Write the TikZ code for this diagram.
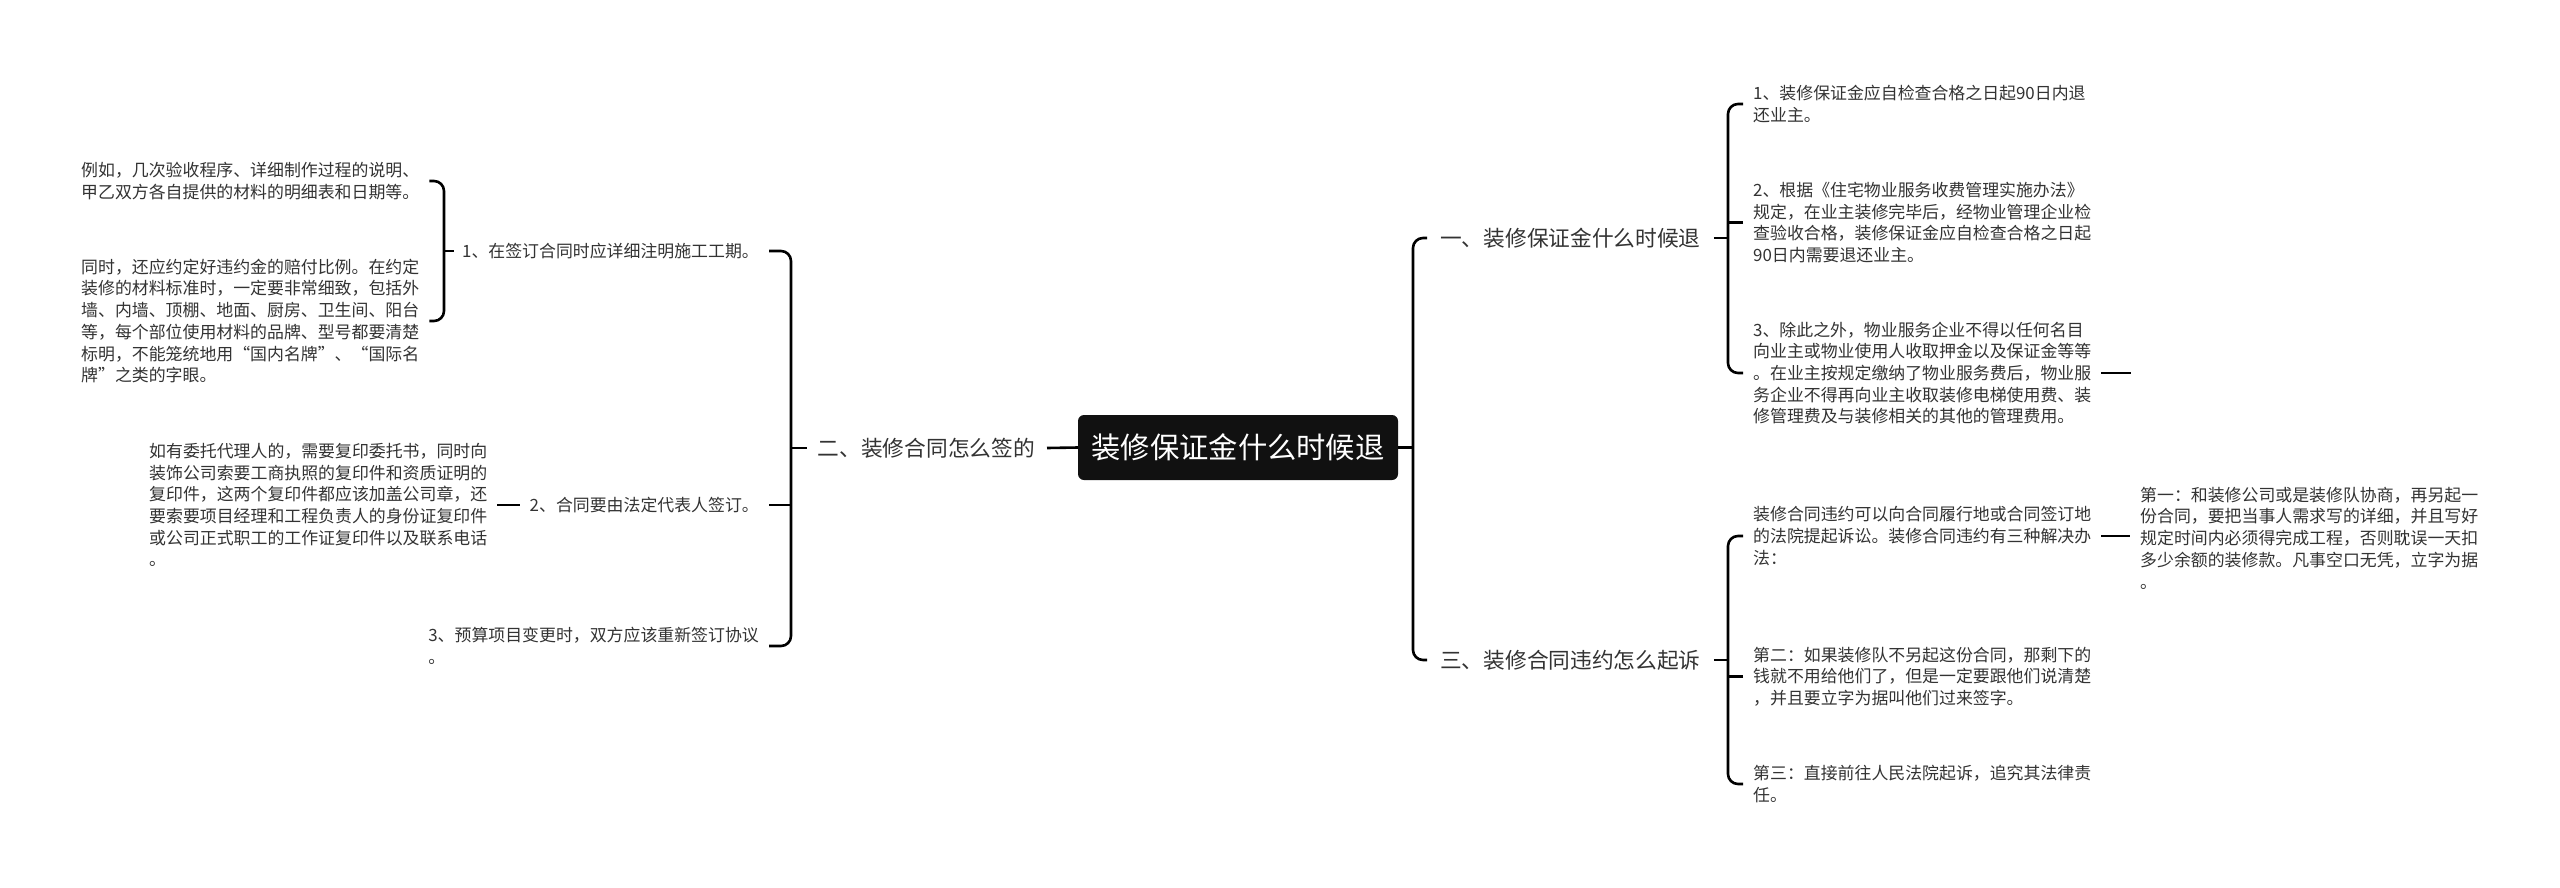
\documentclass[tikz,border=0pt]{standalone}
\usepackage{fontspec}
\setmainfont{Noto Sans CJK SC}
\definecolor{txt}{HTML}{333333}
\definecolor{rootfill}{HTML}{111111}
\begin{document}
\begin{tikzpicture}[x=1pt,y=-1pt,
  conn/.style={draw=black,line width=2.6pt,rounded corners=10pt},
  small/.style={inner sep=0pt,text=txt,align=left,font=\fontsize{16.9}{21.7}\selectfont},
  smallbox/.style={small,text width=338pt},
  branch/.style={inner sep=0pt,text=txt,font=\fontsize{21.7}{26}\selectfont},
  rootnode/.style={fill=rootfill,rounded corners=6pt,text=white,minimum width=320pt,minimum height=65pt,inner sep=0pt,font=\fontsize{29.3}{34}\selectfont}]
\useasboundingbox (0,0) rectangle (2560,887);
\fill[white] (0,0) rectangle (2560,887);

% root
\node[rootnode] (root) at (1238,447.5) {装修保证金什么时候退};

% branches
\node[branch,anchor=east] (b2) at (1035,448) {二、装修合同怎么签的};
\node[branch,anchor=west] (b1) at (1440,238) {一、装修保证金什么时候退};
\node[branch,anchor=west] (b3) at (1440,660) {三、装修合同违约怎么起诉};

% right branch 1 children
\node[smallbox,anchor=west] (t11) at (1753,104) {1、装修保证金应自检查合格之日起90日内退\\还业主。};
\node[smallbox,anchor=west] (t12) at (1753,222.5) {2、根据《住宅物业服务收费管理实施办法》\\规定，在业主装修完毕后，经物业管理企业检\\查验收合格，装修保证金应自检查合格之日起\\90日内需要退还业主。};
\node[smallbox,anchor=west] (t13) at (1753,373) {3、除此之外，物业服务企业不得以任何名目\\向业主或物业使用人收取押金以及保证金等等\\。在业主按规定缴纳了物业服务费后，物业服\\务企业不得再向业主收取装修电梯使用费、装\\修管理费及与装修相关的其他的管理费用。};

% right branch 3 children
\node[smallbox,anchor=west] (t31) at (1753,536) {装修合同违约可以向合同履行地或合同签订地\\的法院提起诉讼。装修合同违约有三种解决办\\法：};
\node[smallbox,anchor=west] (t31a) at (2140,538) {第一：和装修公司或是装修队协商，再另起一\\份合同，要把当事人需求写的详细，并且写好\\规定时间内必须得完成工程，否则耽误一天扣\\多少余额的装修款。凡事空口无凭，立字为据\\。};
\node[smallbox,anchor=west] (t32) at (1753,676.5) {第二：如果装修队不另起这份合同，那剩下的\\钱就不用给他们了，但是一定要跟他们说清楚\\，并且要立字为据叫他们过来签字。};
\node[smallbox,anchor=west] (t33) at (1753,784) {第三：直接前往人民法院起诉，追究其法律责\\任。};

% left branch children
\node[small,anchor=east] (c1) at (759,251) {1、在签订合同时应详细注明施工工期。};
\node[small,anchor=east] (c2) at (759,505) {2、合同要由法定代表人签订。};
\node[small,anchor=east] (c3) at (759,646) {3、预算项目变更时，双方应该重新签订协议\\。};

\node[smallbox,anchor=west] (c1a) at (81,181) {例如，几次验收程序、详细制作过程的说明、\\甲乙双方各自提供的材料的明细表和日期等。};
\node[smallbox,anchor=west] (c1b) at (81,321) {同时，还应约定好违约金的赔付比例。在约定\\装修的材料标准时，一定要非常细致，包括外\\墙、内墙、顶棚、地面、厨房、卫生间、阳台\\等，每个部位使用材料的品牌、型号都要清楚\\标明，不能笼统地用“国内名牌”、“国际名\\牌”之类的字眼。};
\node[smallbox,anchor=west] (c2a) at (149,505) {如有委托代理人的，需要复印委托书，同时向\\装饰公司索要工商执照的复印件和资质证明的\\复印件，这两个复印件都应该加盖公司章，还\\要索要项目经理和工程负责人的身份证复印件\\或公司正式职工的工作证复印件以及联系电话\\。};

% junction coordinates
\coordinate (rt) at (1413,447.5);
\coordinate (r1) at (1728,238);
\coordinate (r3) at (1728,660);
\coordinate (lt) at (791,448);
\coordinate (l1) at (444,251);

% right trunk
\draw[conn] (root.east) -- (rt);
\draw[conn] ([xshift=-13pt]b1.west) -| (rt) |- ([xshift=-13pt]b3.west);

% branch 1
\draw[conn] ([xshift=13pt]b1.east) -- (r1);
\draw[conn] ([xshift=-10pt]t11.west) -| (r1) |- ([xshift=-10pt]t13.west);
\draw[conn] ([xshift=-10pt]t12.west) -- (t12.west -| r1);
\draw[conn] ([xshift=10pt]t13.east) -- ++(30,0) coordinate (t13end);

% branch 3
\draw[conn] ([xshift=13pt]b3.east) -- (r3);
\draw[conn] ([xshift=-10pt]t31.west) -| (r3) |- ([xshift=-10pt]t33.west);
\draw[conn] ([xshift=-10pt]t32.west) -- (t32.west -| r3);
\draw[conn] ([xshift=10pt]t31.east) -- ([xshift=-10pt]t31a.west |- t31.east);

% left trunk
\draw[conn] (root.west) -- ([xshift=12pt]b2.east);
\draw[conn] ([xshift=-11pt]b2.west) -- (lt);
\draw[conn] ([xshift=10pt]c1.east) -| (lt) |- ([xshift=10pt]c3.east);
\draw[conn] ([xshift=10pt]c2.east) -- (c2.east -| lt);

% left child 1
\draw[conn] ([xshift=-8pt]c1.west) -- (l1);
\draw[conn] ([xshift=10pt]c1a.east) -| (l1) |- ([xshift=10pt]c1b.east);

% left child 2
\draw[conn] ([xshift=-10pt]c2.west) -- ([xshift=10pt]c2a.east |- c2.west);
\end{tikzpicture}
\end{document}
